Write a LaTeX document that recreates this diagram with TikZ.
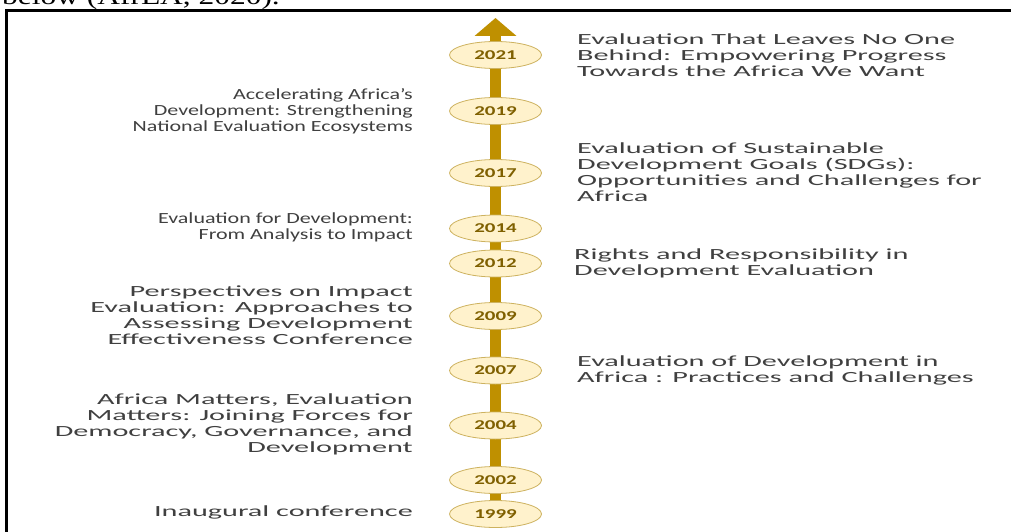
\documentclass[tikz,border=0pt]{standalone}
\usepackage{fontspec}
\setmainfont{Carlito}
\newfontfamily\headfont{Liberation Serif}
\usetikzlibrary{shapes.geometric,arrows.meta,backgrounds}
\definecolor{shaftgold}{HTML}{BF9000}
\definecolor{yearfill}{HTML}{FFF2CC}
\definecolor{yearline}{HTML}{CDB25F}
\definecolor{yeartext}{HTML}{7F6000}
\definecolor{bodytext}{HTML}{404040}
% a block of lines, widened horizontally
\newcommand\evlines[3]{\scalebox{#1}[1]{\begin{tabular}{@{}#2@{}}#3\end{tabular}}}
\newcommand\yr[1]{\scalebox{1.55}[1]{#1}}

\begin{document}
\begin{tikzpicture}[x=1pt,y=-1pt,
  year/.style={ellipse, draw=yearline, line width=0.8pt, fill=yearfill,
    minimum width=92pt, minimum height=27pt, inner sep=0pt, text=yeartext,
    font=\fontsize{13.5}{13.5}\selectfont\bfseries},
  evright/.style={anchor=west, inner sep=0pt, text=bodytext,
    font=\fontsize{15.5}{16}\selectfont},
  evleft/.style={anchor=east, inner sep=0pt, text=bodytext,
    font=\fontsize{15.5}{16}\selectfont},
]
\clip (0,0) rectangle (1011,532);

% running text above the frame
\node[anchor=base west, inner sep=0pt, font=\headfont\fontsize{24}{24}\selectfont] (hdr)
  at (2,5) {\scalebox{1.31}[1]{below (AfrEA, 2020).}};

% frame
\draw[line width=3pt] (6.5,545) -- (6.5,11) -- (1020,11);

% year markers
\node[year] (y2021) at (495.5,55)    {\yr{2021}};
\node[year] (y2019) at (495.5,111)   {\yr{2019}};
\node[year] (y2017) at (495.5,173)   {\yr{2017}};
\node[year] (y2014) at (495.5,228.5) {\yr{2014}};
\node[year] (y2012) at (495.5,263.5) {\yr{2012}};
\node[year] (y2009) at (495.5,316)   {\yr{2009}};
\node[year] (y2007) at (495.5,370.5) {\yr{2007}};
\node[year] (y2004) at (495.5,425.5) {\yr{2004}};
\node[year] (y2002) at (495.5,480)   {\yr{2002}};
\node[year] (y1999) at (495.5,514)   {\yr{1999}};
\coordinate (top) at (495.5,18);

% white page and time axis behind the markers
\begin{scope}[on background layer]
  \fill[white] (0,0) rectangle (1011,532);
  \draw[shaftgold, line width=11pt,
    -{Triangle[width=41pt,length=18pt]}] (y1999.center) -- (top);
\end{scope}

% conference themes
\node[evright] (t2021) at (577,57)
  {\evlines{1.95}{l}{Evaluation That Leaves No One\\Behind: Empowering Progress\\Towards the Africa We Want}};
\node[evleft] (t2019) at (413,112)
  {\evlines{1.42}{r}{Accelerating Africa’s\\Development: Strengthening\\National Evaluation Ecosystems}};
\node[evright] (t2017) at (577,174)
  {\evlines{1.95}{l}{Evaluation of Sustainable\\Development Goals (SDGs):\\Opportunities and Challenges for\\Africa}};
\node[evleft] (t2014) at (413,228)
  {\evlines{1.42}{r}{Evaluation for Development:\\From Analysis to Impact}};
\node[evright] (t2012) at (574,264)
  {\evlines{1.95}{l}{Rights and Responsibility in\\Development Evaluation}};
\node[evleft] (t2009) at (413,317)
  {\evlines{1.95}{r}{Perspectives on Impact\\Evaluation: Approaches to\\Assessing Development\\Effectiveness Conference}};
\node[evright] (t2007) at (577,371)
  {\evlines{1.95}{l}{Evaluation of Development in\\Africa : Practices and Challenges}};
\node[evleft] (t2004) at (413,425)
  {\evlines{1.95}{r}{Africa Matters, Evaluation\\Matters: Joining Forces for\\Democracy, Governance, and\\Development}};
\node[evleft] (t1999) at (413,513)
  {\evlines{1.95}{r}{Inaugural conference}};
\end{tikzpicture}
\end{document}
